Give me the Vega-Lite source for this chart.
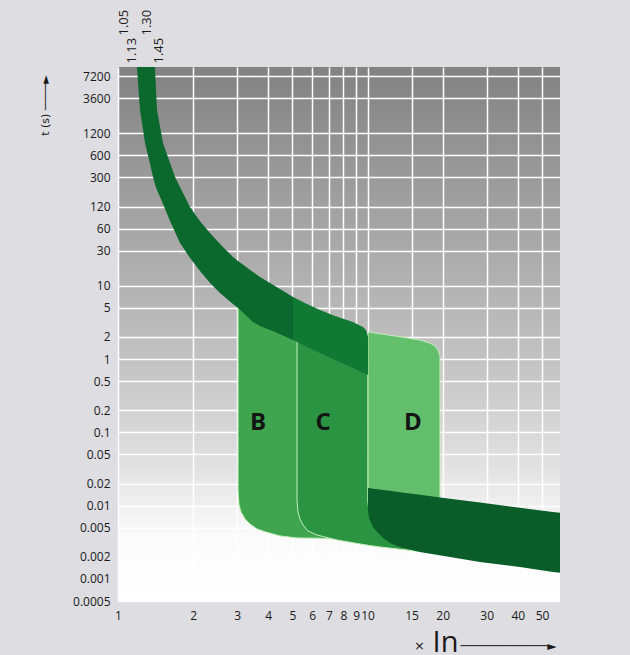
{
  "$schema": "https://vega.github.io/schema/vega-lite/v6.json",
  "width": 442,
  "height": 534,
  "autosize": "none",
  "padding": {"left": 118, "top": 67, "right": 70, "bottom": 54},
  "background": "#dedde1",
  "config": {
    "view": {
      "stroke": null,
      "fill": {
        "gradient": "linear", "x1": 0, "y1": 0, "x2": 0, "y2": 1,
        "stops": [
          {"offset": 0, "color": "#828282"},
          {"offset": 0.3, "color": "#a5a5a5"},
          {"offset": 0.55, "color": "#c3c3c3"},
          {"offset": 0.75, "color": "#e2e2e2"},
          {"offset": 0.88, "color": "#fbfbfb"},
          {"offset": 1, "color": "#ffffff"}
        ]
      }
    },
    "axis": {
      "labelFont": "Open Sans", "labelFontSize": 12, "labelColor": "#1a1a1a",
      "titleColor": "#1a1a1a", "ticks": false, "domain": false,
      "labelOverlap": false, "labelFlush": false, "titleFontWeight": "normal"
    }
  },
  "data": {
    "values": [
      {"s": "B", "x": 3.026, "hi": 10, "lo": 0.0163},
      {"s": "B", "x": 3.054, "hi": 10, "lo": 0.0102},
      {"s": "B", "x": 3.111, "hi": 9, "lo": 0.0082},
      {"s": "B", "x": 3.228, "hi": 8, "lo": 0.00658},
      {"s": "B", "x": 3.38, "hi": 7, "lo": 0.00561},
      {"s": "B", "x": 3.605, "hi": 6, "lo": 0.0048},
      {"s": "B", "x": 3.88, "hi": 5.5, "lo": 0.0044},
      {"s": "B", "x": 4.457, "hi": 4.5, "lo": 0.00386},
      {"s": "B", "x": 5.214, "hi": 3.6, "lo": 0.00362},
      {"s": "B", "x": 6.27, "hi": 2.6, "lo": 0.0036},
      {"s": "B", "x": 7.2, "hi": 2.0, "lo": 0.00352},

      {"s": "C", "x": 5.214, "hi": 3.4, "lo": 0.01194},
      {"s": "C", "x": 5.263, "hi": 3.4, "lo": 0.0082},
      {"s": "C", "x": 5.36, "hi": 3.3, "lo": 0.00658},
      {"s": "C", "x": 5.511, "hi": 3.2, "lo": 0.00545},
      {"s": "C", "x": 5.771, "hi": 3.0, "lo": 0.00451},
      {"s": "C", "x": 6.27, "hi": 2.6, "lo": 0.00397},
      {"s": "C", "x": 7.54, "hi": 2.0, "lo": 0.0034},
      {"s": "C", "x": 9.32, "hi": 1.5, "lo": 0.003},
      {"s": "C", "x": 10.04, "hi": 1.2, "lo": 0.00288},
      {"s": "C", "x": 10.05, "hi": 0.01, "lo": 0.00287},
      {"s": "C", "x": 11.21, "hi": 0.01, "lo": 0.00273},
      {"s": "C", "x": 14.38, "hi": 0.01, "lo": 0.00248},
      {"s": "C", "x": 17.78, "hi": 0.01, "lo": 0.00226},

      {"s": "D", "x": 10.04, "hi": 2.34, "lo": 0.011},
      {"s": "D", "x": 12.88, "hi": 2.06, "lo": 0.011},
      {"s": "D", "x": 16.21, "hi": 1.82, "lo": 0.011},
      {"s": "D", "x": 17.78, "hi": 1.65, "lo": 0.011},
      {"s": "D", "x": 18.62, "hi": 1.51, "lo": 0.011},
      {"s": "D", "x": 19.15, "hi": 1.33, "lo": 0.011},
      {"s": "D", "x": 19.5, "hi": 1.1, "lo": 0.011},

      {"s": "L", "x": 10.04, "hi": 0.0174, "lo": 0.00872},
      {"s": "L", "x": 10.13, "hi": 0.0174, "lo": 0.00678},
      {"s": "L", "x": 10.51, "hi": 0.017, "lo": 0.00511},
      {"s": "L", "x": 11.01, "hi": 0.0167, "lo": 0.00424},
      {"s": "L", "x": 11.53, "hi": 0.0163, "lo": 0.00362},
      {"s": "L", "x": 12.3, "hi": 0.0159, "lo": 0.00309},
      {"s": "L", "x": 13.49, "hi": 0.0152, "lo": 0.00273},
      {"s": "L", "x": 16.21, "hi": 0.0141, "lo": 0.00233},
      {"s": "L", "x": 21.38, "hi": 0.01245, "lo": 0.00199},
      {"s": "L", "x": 28.2, "hi": 0.011, "lo": 0.0017},
      {"s": "L", "x": 40.8, "hi": 0.00933, "lo": 0.00146},
      {"s": "L", "x": 55.3, "hi": 0.00817, "lo": 0.00124},
      {"s": "L", "x": 59.0, "hi": 0.008, "lo": 0.00121},

      {"s": "U1", "x": 1.191, "hi": 100000, "lo": 9640},
      {"s": "U1", "x": 1.225, "hi": 100000, "lo": 2496},
      {"s": "U1", "x": 1.283, "hi": 100000, "lo": 885},
      {"s": "U1", "x": 1.344, "hi": 100000, "lo": 458},
      {"s": "U1", "x": 1.381, "hi": 100000, "lo": 305},
      {"s": "U1", "x": 1.406, "hi": 9640, "lo": 244},
      {"s": "U1", "x": 1.433, "hi": 2496, "lo": 202},
      {"s": "U1", "x": 1.515, "hi": 885, "lo": 130},
      {"s": "U1", "x": 1.616, "hi": 472, "lo": 76.4},
      {"s": "U1", "x": 1.692, "hi": 305, "lo": 54.1},
      {"s": "U1", "x": 1.772, "hi": 222, "lo": 38.3},
      {"s": "U1", "x": 1.943, "hi": 119, "lo": 23.9},
      {"s": "U1", "x": 2.131, "hi": 76, "lo": 15.9},
      {"s": "U1", "x": 2.337, "hi": 52.4, "lo": 10.9},
      {"s": "U1", "x": 2.563, "hi": 37.1, "lo": 7.96},
      {"s": "U1", "x": 2.888, "hi": 24.7, "lo": 5.64},
      {"s": "U1", "x": 3.026, "hi": 21.7, "lo": 4.97},
      {"s": "U1", "x": 3.474, "hi": 15.4, "lo": 3.2},
      {"s": "U1", "x": 3.707, "hi": 13.2, "lo": 2.82},
      {"s": "U1", "x": 4.256, "hi": 9.9, "lo": 2.34},
      {"s": "U1", "x": 5.025, "hi": 7.02, "lo": 1.82},

      {"s": "U2", "x": 5.025, "hi": 7.02, "lo": 1.82},
      {"s": "U2", "x": 5.718, "hi": 5.64, "lo": 1.46},
      {"s": "U2", "x": 6.446, "hi": 4.67, "lo": 1.21},
      {"s": "U2", "x": 7.403, "hi": 3.86, "lo": 0.97},
      {"s": "U2", "x": 8.74, "hi": 3.2, "lo": 0.755},
      {"s": "U2", "x": 9.585, "hi": 2.74, "lo": 0.646},
      {"s": "U2", "x": 9.854, "hi": 2.49, "lo": 0.63},
      {"s": "U2", "x": 10.04, "hi": 2.0, "lo": 0.605},

      {"s": "T", "x": 3.64, "hi": 0.134, "txt": "B"},
      {"s": "T", "x": 6.63, "hi": 0.134, "txt": "C"},
      {"s": "T", "x": 15.2, "hi": 0.134, "txt": "D"}
    ]
  },
  "encoding": {
    "y": {"field": "hi", "type": "quantitative",
      "scale": {"type": "log", "domain": [0.0005, 9640], "nice": false},
      "axis": {"values": [0.0005, 0.001, 0.002, 0.005, 0.01, 0.02, 0.05, 0.1, 0.2, 0.5, 1, 2, 5, 10, 30, 60, 120, 300, 600, 1200, 3600, 7200],
        "labelExpr": "'' + datum.value", "labelPadding": 8, "grid": true,
        "gridColor": "#ffffff", "gridWidth": 1.5,
        "title": "t (s)  ────►", "titleFont": "DejaVu Sans", "titleFontSize": 11,
        "titleAngle": 270, "titleX": -73, "titleY": 38, "titleAlign": "center", "titleBaseline": "middle"}}
  },
  "layer": [
    {
      "transform": [{"filter": "datum.s === 'B'"}],
      "mark": {"type": "area", "color": "#3fa64f", "clip": true, "stroke": "#c6eebe", "strokeWidth": 1},
      "encoding": {
        "x": {"field": "x", "type": "quantitative",
          "scale": {"type": "log", "domain": [1, 59], "nice": false},
          "axis": {"orient": "bottom", "values": [1, 2, 3, 4, 5, 6, 7, 8, 9, 10, 15, 20, 30, 40, 50],
            "labelExpr": "'' + datum.value", "labelPadding": 9, "grid": true,
            "gridColor": "#ffffff", "gridWidth": 1.5,
            "title": "In", "titleFont": "Open Sans", "titleFontSize": 29,
            "titleX": 327, "titleY": 50, "titleAlign": "center", "titleBaseline": "alphabetic"}},
        "y2": {"field": "lo"}
      }
    },
    {
      "transform": [{"filter": "datum.s === 'C'"}],
      "mark": {"type": "area", "color": "#2b9443", "clip": true, "stroke": "#c6eebe", "strokeWidth": 1},
      "encoding": {
        "x": {"field": "x", "type": "quantitative",
          "scale": {"type": "log", "domain": [1, 59], "nice": false},
          "axis": {"orient": "top", "values": [1.05, 1.3], "format": ".2f",
            "labelAngle": 270, "labelAlign": "left", "labelBaseline": "middle",
            "labelFontSize": 13, "labelPadding": 4, "offset": 28, "grid": false, "title": null}},
        "y2": {"field": "lo"}
      }
    },
    {
      "transform": [{"filter": "datum.s === 'D'"}],
      "mark": {"type": "area", "color": "#63bf6c", "clip": true, "stroke": "#c6eebe", "strokeWidth": 1},
      "encoding": {
        "x": {"field": "x", "type": "quantitative",
          "scale": {"type": "log", "domain": [1, 59], "nice": false},
          "axis": {"orient": "bottom", "labels": false, "grid": false,
            "title": "×", "titleFont": "DejaVu Sans", "titleFontSize": 13,
            "titleX": 301, "titleY": 44, "titleAlign": "center", "titleBaseline": "middle"}},
        "y2": {"field": "lo"}
      }
    },
    {
      "transform": [{"filter": "datum.s === 'L'"}],
      "mark": {"type": "area", "color": "#0a5c28", "clip": true},
      "encoding": {
        "x": {"field": "x", "type": "quantitative",
          "scale": {"type": "log", "domain": [1, 59], "nice": false},
          "axis": {"orient": "bottom", "labels": false, "grid": false,
            "title": "────────────►", "titleFont": "DejaVu Sans", "titleFontSize": 12,
            "titleX": 342, "titleY": 44, "titleAlign": "left", "titleBaseline": "middle"}},
        "y2": {"field": "lo"}
      }
    },
    {
      "transform": [{"filter": "datum.s === 'U1'"}],
      "mark": {"type": "area", "color": "#0b692d", "clip": true},
      "encoding": {
        "x": {"field": "x", "type": "quantitative",
          "scale": {"type": "log", "domain": [1, 59], "nice": false}, "axis": null},
        "y2": {"field": "lo"}
      }
    },
    {
      "transform": [{"filter": "datum.s === 'U2'"}],
      "mark": {"type": "area", "color": "#107a35", "clip": true},
      "encoding": {
        "x": {"field": "x", "type": "quantitative",
          "scale": {"type": "log", "domain": [1, 59], "nice": false}, "axis": null},
        "y2": {"field": "lo"}
      }
    },
    {
      "transform": [{"filter": "datum.s === 'T'"}],
      "mark": {"type": "text", "font": "Open Sans", "fontSize": 24, "fontWeight": "bold", "color": "#141414"},
      "encoding": {
        "x": {"field": "x", "type": "quantitative",
          "scale": {"type": "log", "domain": [1, 59], "nice": false},
          "axis": {"orient": "top", "values": [1.13, 1.45], "format": ".2f",
            "labelAngle": 270, "labelAlign": "left", "labelBaseline": "middle",
            "labelFontSize": 13, "labelPadding": 4, "grid": false, "title": null}},
        "text": {"field": "txt"}
      }
    }
  ],
  "resolve": {"axis": {"x": "independent"}}
}
